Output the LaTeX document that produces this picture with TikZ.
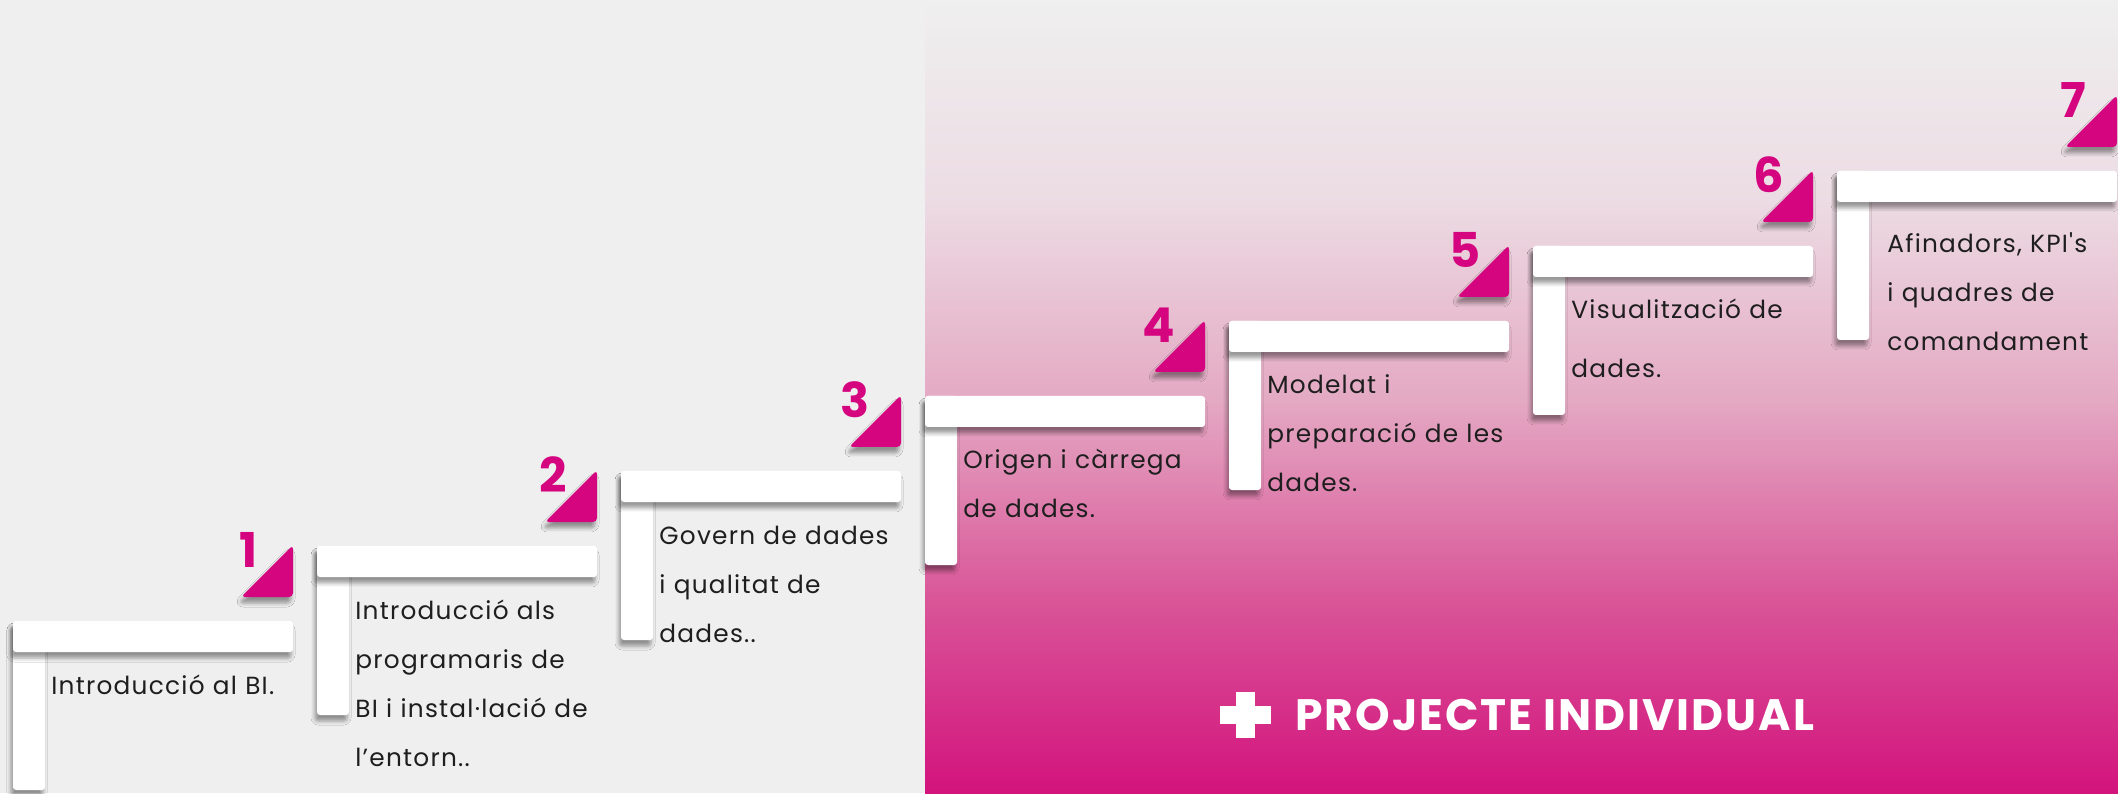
\documentclass[tikz,border=0pt]{standalone}
\usepackage{fontspec}
\setmainfont{Poppins}
\newfontfamily\steplabelfont[LetterSpace=5]{Poppins}
\newfontfamily\projfont[LetterSpace=4.5]{Poppins}
\usetikzlibrary{positioning,shadows.blur}

\definecolor{bggray}{HTML}{EFEFEF}
\definecolor{accent}{HTML}{D4057F}
\definecolor{labeltext}{HTML}{1E1E1E}
\definecolor{gradA}{HTML}{D3137D}
\definecolor{gradB}{HTML}{D95598}
\definecolor{gradC}{HTML}{E4A9C3}
\definecolor{gradD}{HTML}{ECDCE3}
\definecolor{gradE}{HTML}{EFEFEF}
\pgfdeclareverticalshading{projgrad}{100bp}{color(0bp)=(gradA); color(25bp)=(gradA);
  color(37.17bp)=(gradB); color(49.78bp)=(gradC); color(62.39bp)=(gradD);
  color(75bp)=(gradE); color(100bp)=(gradE)}

\tikzset{
  barshadow/.style={blur shadow={shadow xshift=-1pt, shadow yshift=-3pt,
                    shadow blur radius=2pt, shadow opacity=40}},
  stepbar/.style={fill=white, rounded corners=1.5pt, inner sep=0pt, outer sep=0pt,
                  minimum width=140pt, minimum height=15.5pt, anchor=north west, barshadow},
  stepleg/.style={fill=white, rounded corners=1.5pt, inner sep=0pt, outer sep=0pt,
                  minimum width=16pt, minimum height=84.5pt, anchor=north west, barshadow},
  marker/.style={fill=accent, rounded corners=2pt, barshadow},
  stepnum/.style={text=accent, font=\fontsize{24}{24}\selectfont\bfseries, inner sep=0pt},
  steptext/.style={text=labeltext, font=\steplabelfont\fontsize{12.4}{24.5}\selectfont,
                   text width=160pt, align=left, anchor=base west, inner sep=0pt},
  crossbar/.style={fill=white, inner sep=0pt, outer sep=0pt},
  projlabel/.style={text=white, font=\projfont\fontsize{22}{22}\selectfont\bfseries, inner sep=0pt}
}

\begin{document}
\begin{tikzpicture}[x=1pt,y=1pt]
  \useasboundingbox (0,0) rectangle (1059,396.5);
  \fill[bggray] (0,0) rectangle (1059,396.5);
  \shade[shading=projgrad] (462.5,0) rectangle (1059,396.5);

  % stairs: legs first, bars on top
  \node[stepleg] (leg1) at (6.5,86) {};
  \node[stepleg] (leg2) at ([shift={(152pt,37.5pt)}]leg1.north west) {};
  \node[stepleg] (leg3) at ([shift={(152pt,37.5pt)}]leg2.north west) {};
  \node[stepleg] (leg4) at ([shift={(152pt,37.5pt)}]leg3.north west) {};
  \node[stepleg] (leg5) at ([shift={(152pt,37.5pt)}]leg4.north west) {};
  \node[stepleg] (leg6) at ([shift={(152pt,37.5pt)}]leg5.north west) {};
  \node[stepleg] (leg7) at ([shift={(152pt,37.5pt)}]leg6.north west) {};

  \node[stepbar] (step1) at (leg1.north west) {};
  \node[stepbar] (step2) at (leg2.north west) {};
  \node[stepbar] (step3) at (leg3.north west) {};
  \node[stepbar] (step4) at (leg4.north west) {};
  \node[stepbar] (step5) at (leg5.north west) {};
  \node[stepbar] (step6) at (leg6.north west) {};
  \node[stepbar] (step7) at (leg7.north west) {};

  % markers
  \fill[marker] ([yshift=12pt]step1.north east) -- ++(0,26) -- ++(-26,-26) -- cycle;
  \fill[marker] ([yshift=12pt]step2.north east) -- ++(0,26) -- ++(-26,-26) -- cycle;
  \fill[marker] ([yshift=12pt]step3.north east) -- ++(0,26) -- ++(-26,-26) -- cycle;
  \fill[marker] ([yshift=12pt]step4.north east) -- ++(0,26) -- ++(-26,-26) -- cycle;
  \fill[marker] ([yshift=12pt]step5.north east) -- ++(0,26) -- ++(-26,-26) -- cycle;
  \fill[marker] ([yshift=12pt]step6.north east) -- ++(0,26) -- ++(-26,-26) -- cycle;
  \fill[marker] ([yshift=12pt]step7.north east) -- ++(0,26) -- ++(-26,-26) -- cycle;

  \node[stepnum] (num1) at ([xshift=-22pt,yshift=35.5pt]step1.north east) {1};
  \node[stepnum] (num2) at ([xshift=-22pt,yshift=35.5pt]step2.north east) {2};
  \node[stepnum] (num3) at ([xshift=-23pt,yshift=35.5pt]step3.north east) {3};
  \node[stepnum] (num4) at ([xshift=-23pt,yshift=35.5pt]step4.north east) {4};
  \node[stepnum] (num5) at ([xshift=-22pt,yshift=35.5pt]step5.north east) {5};
  \node[stepnum] (num6) at ([xshift=-22pt,yshift=35.5pt]step6.north east) {6};
  \node[stepnum] (num7) at ([xshift=-22pt,yshift=35.5pt]step7.north east) {7};

  % labels
  \node[steptext] (text1) at ([xshift=19pt,yshift=-36.5pt]step1.north west) {Introducció al BI.};
  \node[steptext] (text2) at ([xshift=19pt,yshift=-36.5pt]step2.north west)
       {Introducció als\\programaris de\\BI i instal·lació de\\l’entorn..};
  \node[steptext] (text3) at ([xshift=19pt,yshift=-36.5pt]step3.north west)
       {Govern de dades\\i qualitat de\\dades..};
  \node[steptext] (text4) at ([xshift=19pt,yshift=-36.5pt]step4.north west)
       {Origen i càrrega\\de dades.};
  \node[steptext] (text5) at ([xshift=19pt,yshift=-36.5pt]step5.north west)
       {Modelat i\\preparació de les\\dades.};
  \node[steptext, font=\steplabelfont\fontsize{12.4}{29.5}\selectfont] (text6)
       at ([xshift=19pt,yshift=-36.5pt]step6.north west) {Visualització de\\dades.};
  \node[steptext] (text7) at ([xshift=25pt,yshift=-41pt]step7.north west)
       {Afinadors, KPI's\\i quadres de\\comandament};

  % individual project
  \node[crossbar, minimum width=25.5pt, minimum height=9pt] (crossh) at (622.75,39) {};
  \node[crossbar, minimum width=9.5pt, minimum height=23pt] (crossv) at (crossh.center) {};
  \node[projlabel, right=12pt of crossh] (projecte) {PROJECTE INDIVIDUAL};
\end{tikzpicture}
\end{document}
